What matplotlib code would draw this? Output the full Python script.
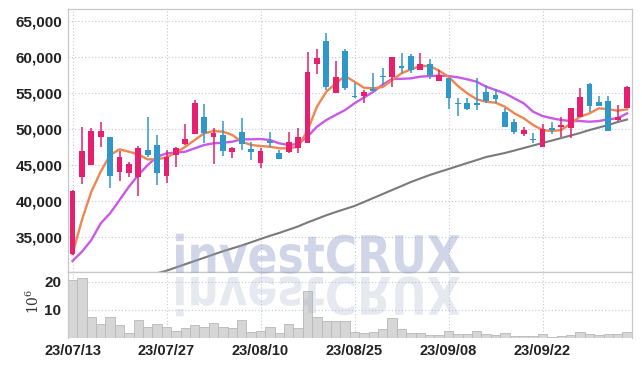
import numpy as np
import matplotlib.pyplot as plt
from matplotlib.textpath import TextPath
from matplotlib.patches import PathPatch
from matplotlib.font_manager import FontProperties
from matplotlib.transforms import Affine2D

plt.rcParams['font.family'] = ['Liberation Sans Narrow', 'Liberation Sans', 'DejaVu Sans']
plt.rcParams['mathtext.fontset'] = 'dejavuserif'

# daily candles, 60 trading days starting 23/07/13
open_ = [32570, 43300, 44930, 48780, 48780, 43920, 43780, 43300, 47010, 47710,
         43440, 46300, 47850, 49190, 51560, 48860, 49100, 46690, 49510, 47110,
         45170, 48310, 46640, 46690, 47250, 47940, 58920, 62200, 54890, 60760,
         54510, 54560, 55490, 57330, 57110, 58580, 60110, 58130, 58960, 56640,
         56970, 53590, 53590, 53590, 55030, 54650, 52330, 50860, 49240, 48500,
         47470, 50030, 50250, 50030, 51640, 56180, 53720, 53820, 51180, 52810]
high = [41400, 50170, 50030, 50940, 48780, 46920, 45300, 47570, 51560, 49100,
        47010, 47390, 50580, 53960, 53360, 50030, 51080, 47390, 51420, 48080,
        47250, 49560, 47010, 49560, 50030, 60670, 61000, 63270, 59420, 61000,
        56280, 55400, 57750, 58360, 59970, 60440, 60300, 60440, 59610, 58130,
        56970, 54190, 54190, 56970, 56040, 55440, 52890, 51280, 50250, 49420,
        50580, 50940, 51640, 52810, 55580, 56280, 54510, 54510, 53260, 55900]
low = [32400, 42290, 44930, 47470, 41690, 42710, 43300, 40620, 46080, 42150,
       42390, 44700, 47710, 49190, 47940, 45070, 46180, 45860, 47010, 45620,
       44470, 47470, 45720, 46560, 46640, 47940, 57570, 55350, 54890, 55350,
       54190, 53500, 55210, 56040, 55720, 57670, 57670, 58130, 56830, 56640,
       52670, 51740, 52570, 52570, 53580, 53500, 50250, 49240, 48960, 47940,
       47470, 49240, 48860, 48640, 51640, 52330, 53170, 49700, 51080, 52810]
close = [41360, 46880, 49650, 49650, 43440, 46000, 45030, 47250, 46320, 43860,
         46080, 47250, 48500, 53500, 49330, 49330, 46920, 47250, 47850, 46780,
         46880, 47940, 45720, 48170, 48780, 57810, 59750, 55810, 57110, 55580,
         54380, 55110, 55210, 57110, 59890, 58450, 58130, 59030, 57430, 57430,
         54280, 53400, 52750, 53220, 53860, 54100, 50250, 49560, 49790, 48400,
         49890, 49790, 50490, 52810, 54330, 53170, 53170, 49700, 51560, 55720]
volume = [20.8, 21.4, 7.3, 4.9, 7.5, 4.4, 1.5, 6.2, 3.7, 4.8,
          3.7, 2.3, 3.3, 4.4, 3.7, 5.1, 3.7, 3.3, 6.2, 1.9,
          2.3, 3.7, 1.6, 4.8, 3.3, 16.8, 7.3, 6.0, 6.0, 6.0,
          2.0, 1.5, 2.0, 3.0, 7.0, 3.0, 1.6, 1.5, 1.0, 1.0,
          2.2, 1.4, 1.4, 2.5, 1.4, 1.0, 1.5, 0.6, 0.6, 0.5,
          1.2, 0.3, 0.6, 1.0, 2.0, 1.4, 1.0, 1.2, 1.2, 2.0]

# moving averages as drawn
ma_short = [32570, 37290, 41220, 44000, 46320, 47110, 46780, 46420, 45720, 45720,
            46000, 46640, 47470, 48400, 49330, 49650, 49560, 49100, 48170, 47710,
            47570, 47470, 47250, 47250, 47470, 49700, 53030, 55110, 56280, 57290,
            56500, 55670, 55580, 55760, 56740, 57670, 58220, 58680, 58680, 58030,
            57200, 55900, 54890, 54060, 53720, 53590, 53030, 52110, 51420, 50490,
            49790, 49650, 49790, 50720, 51640, 52110, 52810, 52670, 52470, 52670]
ma_mid = [31600, 32890, 34510, 36830, 38220, 40070, 41920, 43540, 44930, 46080,
          46550, 46640, 46780, 47250, 47710, 47940, 48030, 48170, 48500, 48500,
          48540, 48400, 47940, 47710, 47850, 48860, 50250, 51180, 51880, 52570,
          53500, 54300, 55100, 56100, 56880, 56900, 56970, 57200, 57290, 57340,
          57290, 57110, 56830, 56500, 55810, 55350, 54890, 54190, 53500, 52330,
          51740, 51420, 51180, 51040, 51040, 50940, 51040, 51280, 51420, 52110]
ma_long = [np.nan] * 8 + [29450,
           29900, 30250, 30700, 31150, 31600, 32050, 32500, 32950, 33350, 33750,
           34200, 34650, 35100, 35500, 35950, 36400, 36950, 37450, 37950, 38400,
           38820, 39240, 39790, 40350, 40900, 41460, 42010, 42570, 43060, 43540,
           43960, 44370, 44790, 45210, 45620, 46040, 46320, 46600, 46940, 47290,
           47640, 47990, 48330, 48680, 49030, 49380, 49790, 50140, 50490, 50900,
           51250]

tick_idx = [0, 10, 20, 30, 40, 50]
tick_labels = ['23/07/13', '23/07/27', '23/08/10', '23/08/25', '23/09/08', '23/09/22']

W, H = 642, 366
fig = plt.figure(figsize=(W / 100, H / 100), dpi=100)


def px_box(l, t, r, b):
    return [l / W, 1 - b / H, (r - l) / W, (b - t) / H]


ax = fig.add_axes(px_box(68, 9, 632, 272))
axv = fig.add_axes(px_box(68, 272, 632, 337.5), sharex=ax)

x = np.arange(len(close))
o = np.array(open_)
c = np.array(close)
up = c >= o
col = np.where(up, '#e61f6e', '#3097c9')

# wicks and bodies
ax.vlines(x, low, high, colors=col, linewidth=1.1, zorder=3)
body_bottom = np.minimum(o, c)
body_h = np.maximum(np.abs(c - o), 180)
ax.bar(x, body_h, bottom=body_bottom, width=0.62, color=col, zorder=4)

ax.plot(x, ma_long, color='#7a7a7a', linewidth=1.5, zorder=2)
ax.plot(x, ma_mid, color='#c95ae8', linewidth=1.7, zorder=2)
ax.plot(x, ma_short, color='#ef8550', linewidth=1.7, zorder=2)

ax.set_xlim(-0.48, 59.52)
ax.set_ylim(30070, 66600)
ax.set_yticks(range(35000, 65001, 5000))
ax.set_yticklabels([f'{v:,}' for v in range(35000, 65001, 5000)])

axv.bar(x, volume, width=1.0, color='#d6d6d6', edgecolor='#b8b8b8', linewidth=0.6, zorder=2)
axv.set_ylim(0, 23.5)
axv.set_yticks([10, 20])
axv.set_xticks(tick_idx)
axv.set_xticklabels(tick_labels)
axv.set_ylabel(r'$10^6$', fontsize=10, color='#333333', fontweight='normal')
axv.yaxis.set_label_coords(-0.046, 0.55)

grid_kw = dict(color='#c2c7dc', linestyle=(0, (1, 2)), linewidth=0.8)
for a in (ax, axv):
    a.grid(True, **grid_kw)
    a.set_axisbelow(True)
    a.tick_params(length=0, labelsize=11, labelcolor='#222222')
    for s in a.spines.values():
        s.set_color('#c8c8c8')
        s.set_linewidth(0.9)
    for lab in a.get_yticklabels() + a.get_xticklabels():
        lab.set_fontweight('bold')
ax.tick_params(labelbottom=False, pad=4)
axv.tick_params(axis='y', pad=5)
axv.tick_params(axis='x', pad=5, labelsize=10.5)
axv.spines['bottom'].set_visible(False)
axv.spines['top'].set_color('#c8c8c8')

# watermark text and its mirror image
tp = TextPath((0, 0), 'investCRUX', size=100,
              prop=FontProperties(family='DejaVu Sans', weight='bold'))
ext = tp.get_extents()
sx = (460 - 176) / ext.width
sy = 40 / ext.height
base = H - 273
main_tr = Affine2D().translate(-ext.x0, 0).scale(sx, sy).translate(176, base) \
    .scale(1 / W, 1 / H) + fig.transFigure
mirror_tr = Affine2D().translate(-ext.x0, 0).scale(sx, -sy).translate(176, base - 4) \
    .scale(1 / W, 1 / H) + fig.transFigure
fig.add_artist(PathPatch(tp, transform=main_tr, facecolor='#909dc7',
                         edgecolor='none', alpha=0.42))
fig.add_artist(PathPatch(tp, transform=mirror_tr, facecolor='#a3abcb',
                         edgecolor='none', alpha=0.25))

fig.savefig('out.png', dpi=100, facecolor='white')
